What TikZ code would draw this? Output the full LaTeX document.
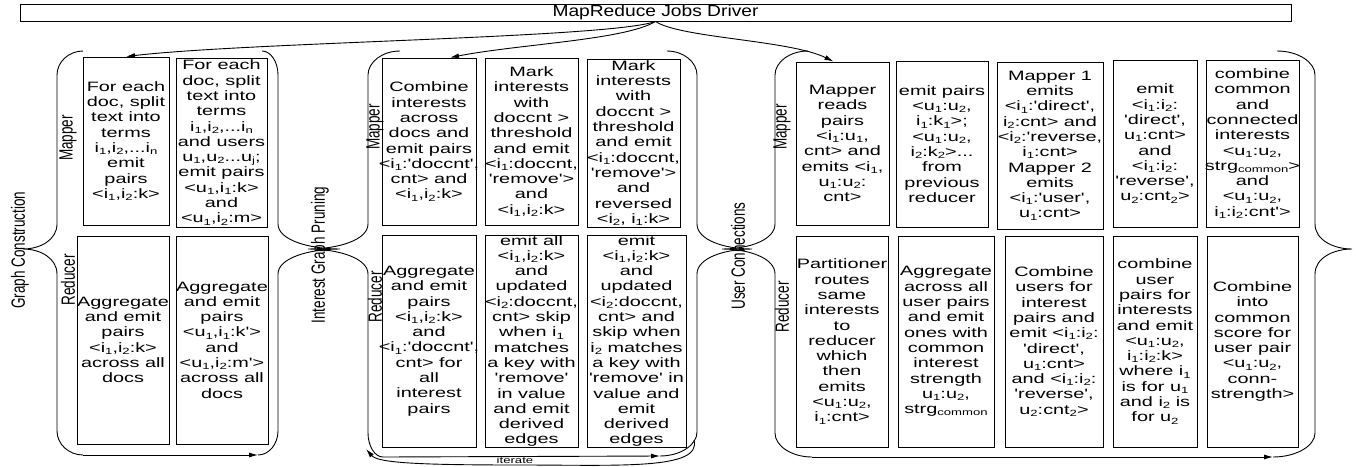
\documentclass[tikz,border=0pt]{standalone}
\usepackage{fontspec}
\usepackage{graphicx}
\usetikzlibrary{arrows.meta,calc,fit}
\newfontfamily\bx[FakeStretch=1.46,Ligatures=TeXOff]{Liberation Sans}
\newfontfamily\drvf[FakeStretch=1.2]{Liberation Sans}
\newfontfamily\lbf{Liberation Sans}
\newcommand\sbs[1]{\raisebox{-0.3ex}{\fontsize{9}{9}\selectfont #1}}
\newcommand\iA{i\sbs{1}}
\newcommand\iB{i\sbs{2}}
\newcommand\uA{u\sbs{1}}
\newcommand\uB{u\sbs{2}}
% brace: #1 vertical x, #2 top end x, #3 tip x, #4 bottom end x, #5 bottom y
\newcommand\bracepath[5]{%
  \draw[brace] (#2,51) .. controls ({#1+0.45*(#2-#1)},51) and (#1,62) .. (#1,75)
    -- (#1,224)
    .. controls (#1,240) and ({#3+0.5*(#1-#3)},249) .. (#3,249)
    .. controls ({#3+0.5*(#1-#3)},249) and (#1,258) .. (#1,274)
    -- (#1,{#5-24})
    .. controls (#1,{#5-11}) and ({#1+0.45*(#4-#1)},#5) .. (#4,#5);}
\tikzset{
  box/.style={draw, line width=0.9pt, inner sep=0pt, rectangle},
  txt/.style={inner sep=0pt, align=center, font=\bx\fontsize{13.6}{15.3}\selectfont},
  lbl/.style={inner sep=0pt, rotate=90, font=\lbf\fontsize{13.5}{15}\selectfont},
  brace/.style={line width=0.9pt},
  arr/.style={draw, line width=0.9pt, -{Latex[length=9pt,width=5pt]}},
}
\begin{document}
\begin{tikzpicture}[x=1pt,y=-1pt]
\fill[white] (0,0) rectangle (1356,466);
\useasboundingbox (0,0) rectangle (1356,466);

% driver
\node[box, fit={(20,4) (1291,21)}] (drv) {};
\node[inner sep=0pt, font=\drvf\fontsize{16}{16}\selectfont] (drvt) at (drv.center) {MapReduce Jobs Driver};

% group 1 boxes
\node[box, fit={(83,57) (169,225)}] (b1m1) {};
\node[box, fit={(176,58) (267,227)}] (b1m2) {};
\node[box, fit={(77,236) (169,444)}] (b1r1) {};
\node[box, fit={(176,236) (268,444)}] (b1r2) {};
% group 2 boxes
\node[box, fit={(382,58) (476,225)}] (b2m1) {};
\node[box, fit={(485,58) (578,225)}] (b2m2) {};
\node[box, fit={(587,59) (680,227)}] (b2m3) {};
\node[box, fit={(382,235) (476,447)}] (b2r1) {};
\node[box, fit={(485,235) (578,447)}] (b2r2) {};
\node[box, fit={(587,235) (686,447)}] (b2r3) {};
% group 3 boxes
\node[box, fit={(796,62) (889,225)}] (b3m1) {};
\node[box, fit={(896,61) (988,227)}] (b3m2) {};
\node[box, fit={(997,62) (1103,229)}] (b3m3) {};
\node[box, fit={(1113,60) (1197,227)}] (b3m4) {};
\node[box, fit={(1206,60) (1299,227)}] (b3m5) {};
\node[box, fit={(796,236) (888,447)}] (b3r1) {};
\node[box, fit={(898,236) (994,447)}] (b3r2) {};
\node[box, fit={(1005,236) (1103,447)}] (b3r3) {};
\node[box, fit={(1113,236) (1197,447)}] (b3r4) {};
\node[box, fit={(1207,236) (1298,447)}] (b3r5) {};

% texts group 1
\node[txt] (t1m1) at (b1m1.center) {For each\\doc, split\\text into\\terms\\\iA,\iB,...i\sbs{n}\\emit\\pairs\\<\iA,\iB:k>};
\node[txt] (t1m2) at (b1m2.center) {For each\\doc, split\\text into\\terms\\\iA,\iB,...i\sbs{n}\\and users\\\uA,\uB...u\sbs{j};\\emit pairs\\<\uA,\iA:k>\\and\\<\uA,\iB:m>};
\node[txt] (t1r1) at (b1r1.center) {Aggregate\\and emit\\pairs\\<\iA,\iB:k>\\across all\\docs};
\node[txt] (t1r2) at (b1r2.center) {Aggregate\\and emit\\pairs\\<\uA,\iA:k'>\\and\\<\uA,\iB:m'>\\across all\\docs};
% texts group 2
\node[txt] (t2m1) at (b2m1.center) {Combine\\interests\\across\\docs and\\emit pairs\\<\iA:'doccnt',\\cnt> and\\<\iA,\iB:k>};
\node[txt] (t2m2) at (b2m2.center) {Mark\\interests\\with\\doccnt >\\threshold\\and emit\\<\iA:doccnt,\\'remove'>\\and\\<\iA,\iB:k>};
\node[txt] (t2m3) at (b2m3.center) {Mark\\interests\\with\\doccnt >\\threshold\\and emit\\<\iA:doccnt,\\'remove'>\\and\\reversed\\<\iB, \iA:k>};
\node[txt] (t2r1) at (b2r1.center) {Aggregate\\and emit\\pairs\\<\iA,\iB:k>\\and\\<\iA:'doccnt',\\cnt> for\\all\\interest\\pairs};
\node[txt] (t2r2) at (b2r2.center) {emit all\\<\iA,\iB:k>\\and\\updated\\<\iB:doccnt,\\cnt> skip\\when \iA\\matches\\a key with\\'remove'\\in value\\and emit\\derived\\edges};
\node[txt] (t2r3) at (b2r3.center) {emit\\<\iA,\iB:k>\\and\\updated\\<\iB:doccnt,\\cnt> and\\skip when\\\iB{} matches\\a key with\\'remove' in\\value and\\emit\\derived\\edges};
% texts group 3
\node[txt] (t3m1) at (b3m1.center) {Mapper\\reads\\pairs\\<\iA:\uA,\\cnt> and\\emits <\iA,\\\uA:\uB:\\cnt>};
\node[txt] (t3m2) at (b3m2.center) {emit pairs\\<\uA:\uB,\\\iA:k\sbs{1}>;\\<\uA:\uB,\\\iB:k\sbs{2}>...\\from\\previous\\reducer};
\node[txt] (t3m3) at (b3m3.center) {Mapper 1\\emits\\<\iA:'direct',\\\iB:cnt> and\\<\iB:'reverse,\\\iA:cnt>\\Mapper 2\\emits\\<\iA:'user',\\\uA:cnt>};
\node[txt] (t3m4) at (b3m4.center) {emit\\<\iA:\iB:\\'direct',\\\uA:cnt>\\and\\<\iA:\iB:\\'reverse',\\\uB:cnt\sbs{2}>};
\node[txt] (t3m5) at (b3m5.center) {combine\\common\\and\\connected\\interests\\<\uA:\uB,\\strg\sbs{common}>\\and\\<\uA:\uB,\\\iA:\iB:cnt'>};
\node[txt] (t3r1) at (b3r1.center) {Partitioner\\routes\\same\\interests\\to\\reducer\\which\\then\\emits\\<\uA:\uB,\\\iA:cnt>};
\node[txt] (t3r2) at (b3r2.center) {Aggregate\\across all\\user pairs\\and emit\\ones with\\common\\interest\\strength\\\uA:\uB,\\strg\sbs{common}};
\node[txt] (t3r3) at (b3r3.center) {Combine\\users for\\interest\\pairs and\\emit <\iA:\iB:\\'direct',\\\uA:cnt>\\and <\iA:\iB:\\'reverse',\\\uB:cnt\sbs{2}>};
\node[txt] (t3r4) at (b3r4.center) {combine\\user\\pairs for\\interests\\and emit\\<\uA:\uB,\\\iA:\iB:k>\\where \iA\\is for \uA\\and \iB{} is\\for \uB};
\node[txt] (t3r5) at (b3r5.center) {Combine\\into\\common\\score for\\user pair\\<\uA:\uB,\\conn-\\strength>};

% labels
\node[lbl] (lgc) at (20,250) {\scalebox{1}[1.42]{Graph Construction}};
\node[lbl] (lig) at (320,255) {\scalebox{1}[1.42]{Interest Graph Pruning}};
\node[lbl] (luc) at (738,256) {\scalebox{1}[1.42]{User Connections}};
\node[lbl] (lm1) at (68,138) {\scalebox{1}[1.42]{Mapper}};
\node[lbl] (lr1) at (68,280) {\scalebox{1}[1.42]{Reducer}};
\node[lbl] (lm2) at (375,127) {\scalebox{1}[1.42]{Mapper}};
\node[lbl] (lr2) at (375,297) {\scalebox{1}[1.42]{Reducer}};
\node[lbl] (lm3) at (782,127) {\scalebox{1}[1.42]{Mapper}};
\node[lbl] (lr3) at (782,307) {\scalebox{1}[1.42]{Reducer}};

% braces
\bracepath{57}{83}{23}{83}{455}
\bracepath{278}{262}{340}{258}{455}
\bracepath{368}{400}{308}{383}{457}
\bracepath{697}{667}{752}{660}{456}
\bracepath{775}{808}{722}{812}{457}
\bracepath{1315}{1277}{1352}{1273}{457}

% brace end coordinates
\coordinate (g1a) at (83,455);
\coordinate (g1b) at (258,455);
\coordinate (g2a) at (383,457);
\coordinate (g2b) at (660,456);
\coordinate (g2it) at (694,440);
\coordinate (g2ie) at (366,449);
\coordinate (g3a) at (812,457);
\coordinate (g3b) at (1273,457);

% bottom arrows
\draw[arr] (g1a) -- (g1b);
\draw[arr] (g2a) -- (g2b);
\draw[arr] (g3a) -- (g3b);
\draw[arr] (g2it) .. controls (702,470) and (620,465) .. (520,465) .. controls (420,465) and (378,463) .. (g2ie);
\node[inner sep=0pt, font=\bx\fontsize{9}{9}\selectfont] (lit) at (515,460) {iterate};

% driver arrows
\draw[arr] (drv.south) .. controls (610,38) and (250,42) .. (b1m1.north);
\draw[arr] (drv.south) .. controls (625,40) and (520,44) .. ([xshift=21pt]b2m1.north);
\draw[arr] (drv.south) .. controls (680,38) and (790,40) .. ([xshift=-9pt]b3m1.north);
\end{tikzpicture}
\end{document}
